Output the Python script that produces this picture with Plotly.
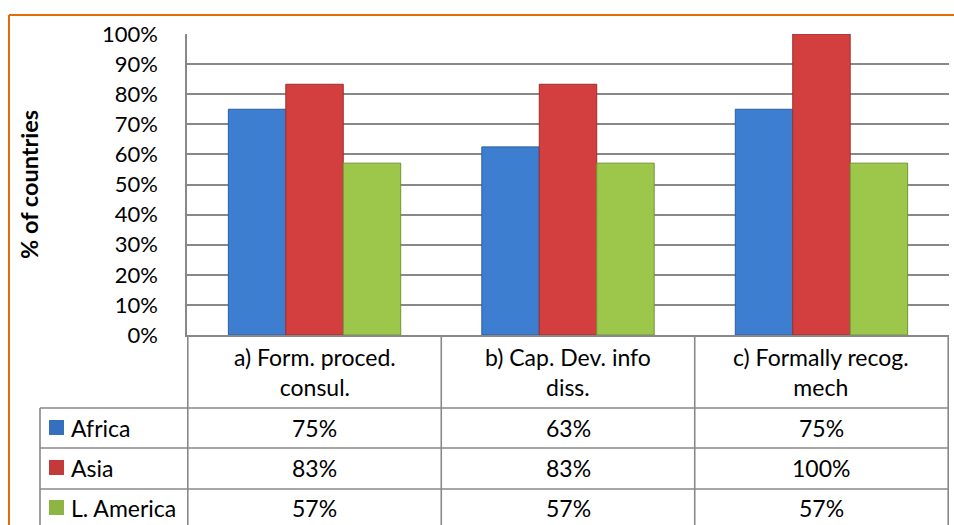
"""Share of countries by region for three consultation criteria, with data table below"""
import plotly.graph_objects as go

categories = ["a) Form. proced.<br>consul.", "b) Cap. Dev. info<br>diss.", "c) Formally recog.<br>mech"]
series_names = ["Africa", "Asia", "L. America"]
africa = [75, 62.5, 75]
asia = [83.3, 83.3, 100]
latam = [57.1, 57.1, 57.1]
y_ticks = [0, 10, 20, 30, 40, 50, 60, 70, 80, 90, 100]

bar_colors = ["#3E7ED0", "#D33F3F", "#9CC74A"]
edge_colors = ["#2C5E9E", "#9E2E2E", "#72943A"]
swatch_colors = ["#3470BD", "#C43A3A", "#8DB543"]
grid_color = "#888888"
orange = "#E36C0A"
FONT = "Lato"

# page geometry (pixels) -> paper coordinates
W, H = 954, 525
L, R, T, B = 187, 5, 34, 0


def px_x(px):
    return (px - L) / (W - L - R)


def px_y(py):
    return (H - B - py) / (H - T - B)


axis_bottom = 335
row_lines = [408, 448, 489]
row_centers = [428, 468, 508]
legend_left = 40

fig = go.Figure()
for name, vals, col, edge in zip(series_names, [africa, asia, latam], bar_colors, edge_colors):
    fig.add_trace(go.Bar(
        x=categories, y=vals, name=name,
        marker=dict(color=col, line=dict(color=edge, width=1)),
        hovertemplate=name + ": %{y:.0f}%<extra></extra>",
    ))

fig.update_layout(
    width=W, height=H, autosize=False,
    margin=dict(l=L, r=R, t=T, b=B, autoexpand=False),
    paper_bgcolor="white", plot_bgcolor="white",
    barmode="group", bargap=0.32, bargroupgap=0,
    showlegend=False,
    font=dict(family=FONT, size=22, color="black"),
    xaxis=dict(showticklabels=False, showline=True, linecolor=grid_color, linewidth=1.6,
               showgrid=False, ticks="", automargin=False),
    yaxis=dict(domain=[px_y(axis_bottom), 1], range=[0, 100], tickvals=y_ticks,
               ticktext=[f"{v}%" for v in y_ticks], showgrid=True, gridcolor=grid_color,
               gridwidth=1.6, showline=True, linecolor=grid_color, linewidth=1.6,
               ticks="", ticklabelstandoff=23, zeroline=False, automargin=False),
)

shapes = []
line = dict(color=grid_color, width=1.6)
# table vertical lines at category boundaries
for i in range(len(categories) + 1):
    shapes.append(dict(type="line", xref="x", yref="paper", x0=i - 0.5, x1=i - 0.5,
                       y0=0, y1=px_y(axis_bottom), line=line))
# legend column left edge and row lines
shapes.append(dict(type="line", xref="paper", yref="paper", x0=px_x(legend_left), x1=px_x(legend_left),
                   y0=0, y1=px_y(row_lines[0]), line=line))
for ry in row_lines:
    shapes.append(dict(type="line", xref="paper", yref="paper", x0=px_x(legend_left), x1=1,
                       y0=px_y(ry), y1=px_y(ry), line=line))
# legend swatches
for cy, col in zip(row_centers, swatch_colors):
    shapes.append(dict(type="rect", xref="paper", yref="paper",
                       x0=px_x(49), x1=px_x(64), y0=px_y(cy + 7), y1=px_y(cy - 8),
                       fillcolor=col, line=dict(color=col, width=0)))
# orange frame
shapes.append(dict(type="line", xref="paper", yref="paper", x0=px_x(9), x1=px_x(W + 5),
                   y0=px_y(15), y1=px_y(15), line=dict(color=orange, width=2)))
shapes.append(dict(type="line", xref="paper", yref="paper", x0=px_x(9), x1=px_x(9),
                   y0=px_y(15), y1=px_y(H + 5), line=dict(color=orange, width=2)))
fig.update_layout(shapes=shapes)

annotations = [dict(text="<b>% of countries</b>", textangle=-90, xref="paper", yref="paper",
                    x=px_x(29), y=px_y(185), xanchor="center", yanchor="middle",
                    showarrow=False, font=dict(size=23.5))]
for cat in categories:
    annotations.append(dict(text=cat, xref="x", yref="paper", x=cat, y=px_y(372),
                            xanchor="center", yanchor="middle", showarrow=False, align="center",
                            font=dict(size=23)))
for name, vals, cy in zip(series_names, [africa, asia, latam], row_centers):
    annotations.append(dict(text=name, xref="paper", yref="paper", x=px_x(69), y=px_y(cy),
                            xanchor="left", yanchor="middle", showarrow=False, font=dict(size=23)))
    for cat, v in zip(categories, vals):
        annotations.append(dict(text=f"{int(v + 0.5)}%", xref="x", yref="paper", x=cat,
                                y=px_y(cy), xanchor="center", yanchor="middle", showarrow=False,
                                font=dict(size=23)))
fig.update_layout(annotations=annotations)

fig.write_html(
    "out.html",
    config={"responsive": False, "displayModeBar": False},
    post_script="document.body.style.margin='0';document.body.style.overflow='hidden';",
)
